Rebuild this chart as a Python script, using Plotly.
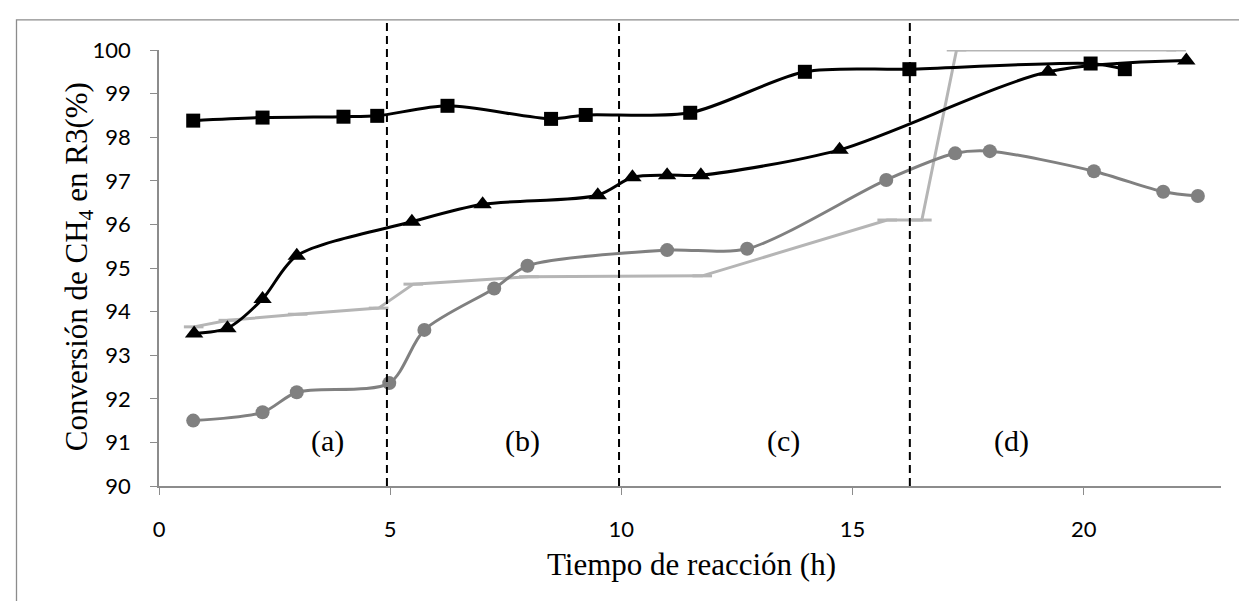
import plotly.graph_objects as go

# Series: squares (black)
sq_x = [0.74, 2.24, 3.99, 4.72, 6.24, 8.48, 9.23, 11.49, 13.97, 16.23, 20.15, 20.89]
sq_y = [98.38, 98.45, 98.47, 98.49, 98.72, 98.42, 98.51, 98.56, 99.50, 99.56, 99.69, 99.56]

# Series: triangles (black)
tr_x = [0.76, 1.48, 2.24, 2.98, 5.47, 7.00, 9.49, 10.24, 10.99, 11.72, 14.72, 19.23, 22.22]
tr_y = [93.50, 93.62, 94.29, 95.28, 96.06, 96.46, 96.67, 97.08, 97.13, 97.13, 97.71, 99.50, 99.76]

# Series: circles (gray)
ci_x = [0.74, 2.24, 2.98, 4.98, 5.74, 7.25, 7.97, 10.99, 12.72, 15.73, 17.22, 17.97, 20.22, 21.72, 22.47]
ci_y = [91.50, 91.69, 92.15, 92.36, 93.58, 94.53, 95.05, 95.41, 95.44, 97.02, 97.63, 97.68, 97.22, 96.75, 96.65]

# Series: light gray line with dash markers
lg_x = [0.75, 1.50, 3.00, 4.75, 5.50, 8.00, 11.75, 15.75, 16.50, 17.25, 22.00]
lg_y = [93.65, 93.80, 93.94, 94.08, 94.63, 94.80, 94.82, 96.10, 96.10, 100.00, 100.00]

# Period boundaries and labels
boundaries = [4.93, 9.95, 16.24]
region_labels = ["(a)", "(b)", "(c)", "(d)"]
region_x = [3.64, 7.86, 13.51, 18.43]
region_y = 91.03

x_ticks = [0, 5, 10, 15, 20]
y_ticks = [90, 91, 92, 93, 94, 95, 96, 97, 98, 99, 100]

W, H = 1247, 601
L, R, T, B = 151.0, 1213.0, 41.7, 478.0
pw, ph = R - L, B - T

def px2paper_x(px):
    return (px - L) / pw

def px2paper_y(py):
    return (B - py) / ph

fig = go.Figure()

fig.add_trace(go.Scatter(
    x=lg_x, y=lg_y, mode="lines+markers",
    line=dict(color="#b5b5b5", width=3),
    marker=dict(symbol="line-ew", size=14, line=dict(color="#b5b5b5", width=3)),
    showlegend=False, hoverinfo="skip"))

fig.add_trace(go.Scatter(
    x=ci_x, y=ci_y, mode="lines+markers",
    line=dict(color="#808080", width=3, shape="spline", smoothing=0.8),
    marker=dict(symbol="circle", size=14, color="#808080"),
    showlegend=False))

fig.add_trace(go.Scatter(
    x=tr_x, y=tr_y, mode="lines+markers",
    line=dict(color="#000000", width=3, shape="spline", smoothing=0.8),
    marker=dict(symbol="triangle-up", size=16, color="#000000"),
    showlegend=False))

fig.add_trace(go.Scatter(
    x=sq_x, y=sq_y, mode="lines+markers",
    line=dict(color="#000000", width=3, shape="spline", smoothing=0.8),
    marker=dict(symbol="square", size=14, color="#000000"),
    showlegend=False))

shapes = []
for b in boundaries:
    shapes.append(dict(type="line", xref="x", yref="paper", x0=b, x1=b,
                       y0=0, y1=px2paper_y(12),
                       line=dict(color="black", width=2, dash="8px,5px"), layer="above"))
# outer frame (only left and top edges visible)
shapes.append(dict(type="rect", xref="paper", yref="paper",
                   x0=px2paper_x(8.5), x1=px2paper_x(1260), y0=px2paper_y(11.5), y1=px2paper_y(620),
                   line=dict(color="#8c8c8c", width=1.3), layer="below"))

serif = "Liberation Serif"
annotations = []
for lab, xx in zip(region_labels, region_x):
    annotations.append(dict(x=xx, y=region_y, xref="x", yref="y", text=lab, showarrow=False,
                            xanchor="center", yanchor="middle",
                            font=dict(family=serif, size=30, color="black")))
annotations.append(dict(x=px2paper_x(71), y=px2paper_y(259), xref="paper", yref="paper",
                        text="Conversión de CH<sub>4</sub> en R3(%)", textangle=-90, showarrow=False,
                        xanchor="center", yanchor="middle",
                        font=dict(family=serif, size=31, color="black")))
annotations.append(dict(x=px2paper_x(683), y=px2paper_y(557), xref="paper", yref="paper",
                        text="Tiempo de reacción (h)", showarrow=False,
                        xanchor="center", yanchor="middle",
                        font=dict(family=serif, size=31, color="black")))

fig.update_layout(
    width=W, height=H,
    margin=dict(l=L, r=W - R, t=T, b=H - B, pad=0),
    paper_bgcolor="white", plot_bgcolor="white",
    shapes=shapes, annotations=annotations,
    xaxis=dict(range=[0, 22.97], tickvals=x_ticks, ticktext=[str(v) for v in x_ticks],
               showgrid=False, zeroline=False, showline=True, linecolor="#8c8c8c", linewidth=2,
               ticks="outside", ticklen=7, tickcolor="#8c8c8c", tickwidth=1,
               tickfont=dict(family="Lato", size=22, color="black"), ticklabelstandoff=16),
    yaxis=dict(range=[90, 100], tickvals=y_ticks, ticktext=[str(v) for v in y_ticks],
               showgrid=False, zeroline=False, showline=True, linecolor="#8c8c8c", linewidth=1.5,
               ticks="outside", ticklen=7, tickcolor="#8c8c8c", tickwidth=1,
               tickfont=dict(family="Lato", size=22, color="black"), ticklabelstandoff=15),
)

fig.write_html("out.html")
